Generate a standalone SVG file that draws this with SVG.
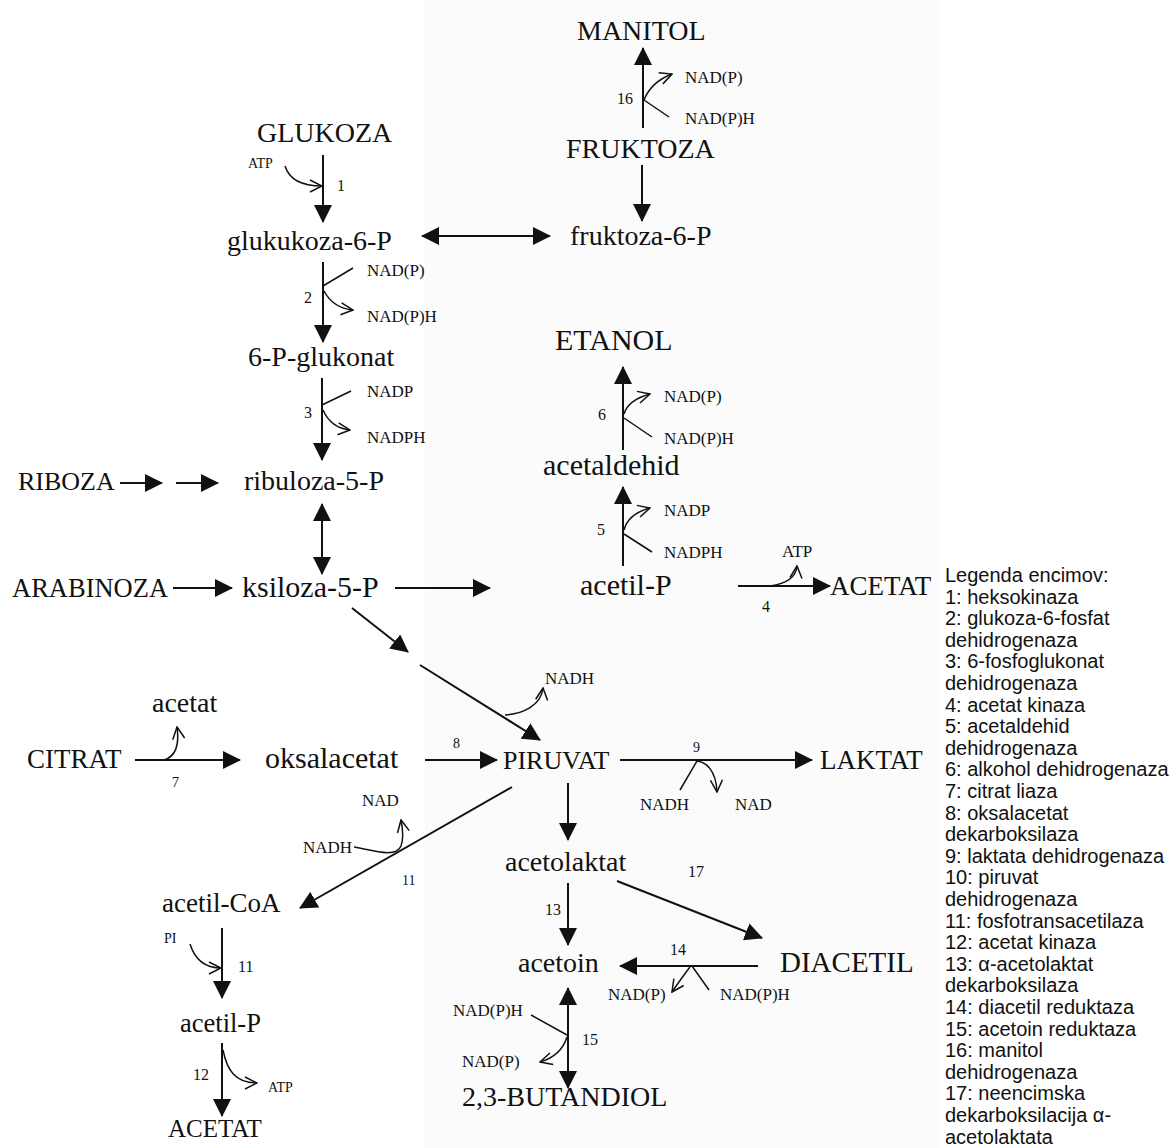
<svg xmlns="http://www.w3.org/2000/svg" width="1172" height="1148" viewBox="0 0 1172 1148">
<style>
.big{font-family:"Liberation Serif","Times New Roman",serif;font-size:28px;fill:#111}
.mid{font-family:"Liberation Serif","Times New Roman",serif;font-size:27px;fill:#111}
.lg{font-family:"Liberation Serif","Times New Roman",serif;font-size:30px;fill:#111}
.sm{font-family:"Liberation Serif","Times New Roman",serif;font-size:17px;fill:#111}
.xs{font-family:"Liberation Serif","Times New Roman",serif;font-size:14px;fill:#111}
.num{font-family:"Liberation Serif","Times New Roman",serif;font-size:16px;fill:#111}
.leg{font-family:"Liberation Sans",Arial,sans-serif;font-size:20px;fill:#111}
.m{fill:none;stroke:#111;stroke-width:2}
.b{fill:none;stroke:#111;stroke-width:1.5}
</style>
<defs>
<marker id="ah" viewBox="0 0 18 18" refX="17" refY="9" markerWidth="18" markerHeight="18" markerUnits="userSpaceOnUse" orient="auto-start-reverse"><path d="M0,0 L18,9 L0,18 z" fill="#111"/></marker>
<marker id="oh" viewBox="0 0 14 14" refX="13" refY="7" markerWidth="14" markerHeight="14" markerUnits="userSpaceOnUse" orient="auto"><path d="M1,1 L13,7 L1,13" fill="none" stroke="#111" stroke-width="1.5"/></marker>
</defs>
<rect width="1172" height="1148" fill="#fff"/>
<rect x="425" y="0" width="515" height="1148" fill="#fbfbfb"/>

<g id="connectors">
<!-- 16 -->
<line class="m" x1="643" y1="128" x2="643" y2="48" marker-end="url(#ah)"/>
<path class="b" d="M644,100 Q651,82 672,74" marker-end="url(#oh)"/>
<line class="b" x1="644" y1="100" x2="669" y2="117"/>
<!-- fruktoza -->
<line class="m" x1="642" y1="165" x2="642" y2="221" marker-end="url(#ah)"/>
<line class="m" x1="422" y1="236" x2="550" y2="236" marker-start="url(#ah)" marker-end="url(#ah)"/>
<!-- 1 -->
<line class="m" x1="323" y1="155" x2="323" y2="222" marker-end="url(#ah)"/>
<path class="b" d="M285,166 C289,179 300,186 322,186" marker-end="url(#oh)"/>
<!-- 2 -->
<line class="m" x1="323" y1="262" x2="323" y2="342" marker-end="url(#ah)"/>
<line class="b" x1="323" y1="286" x2="353" y2="268"/>
<path class="b" d="M324,291 Q333,308 353,310" marker-end="url(#oh)"/>
<!-- 3 -->
<line class="m" x1="322" y1="378" x2="322" y2="460" marker-end="url(#ah)"/>
<line class="b" x1="322" y1="405" x2="351" y2="391"/>
<path class="b" d="M323,410 Q331,428 350,430" marker-end="url(#oh)"/>
<!-- riboza -->
<line class="m" x1="120" y1="483" x2="162" y2="483" marker-end="url(#ah)"/>
<line class="m" x1="176" y1="483" x2="218" y2="483" marker-end="url(#ah)"/>
<line class="m" x1="322" y1="504" x2="322" y2="574" marker-start="url(#ah)" marker-end="url(#ah)"/>
<!-- arabinoza / ksiloza -->
<line class="m" x1="173" y1="588" x2="232" y2="588" marker-end="url(#ah)"/>
<line class="m" x1="395" y1="588" x2="490" y2="588" marker-end="url(#ah)"/>
<line class="m" x1="352" y1="608" x2="408" y2="652" marker-end="url(#ah)"/>
<line class="m" x1="420" y1="665" x2="540" y2="740" marker-end="url(#ah)"/>
<path class="b" d="M505,715 C522,714 541,706 543,688" marker-end="url(#oh)"/>
<!-- 6, 5 -->
<line class="m" x1="623" y1="450" x2="623" y2="367" marker-end="url(#ah)"/>
<path class="b" d="M624,414 Q628,400 650,394" marker-end="url(#oh)"/>
<line class="b" x1="624" y1="418" x2="652" y2="437"/>
<line class="m" x1="623" y1="566" x2="623" y2="487" marker-end="url(#ah)"/>
<path class="b" d="M624,530 Q628,514 650,508" marker-end="url(#oh)"/>
<line class="b" x1="624" y1="534" x2="652" y2="552"/>
<!-- 4 -->
<line class="m" x1="738" y1="586" x2="830" y2="586" marker-end="url(#ah)"/>
<path class="b" d="M770,586 C784,584 796,578 797,566" marker-end="url(#oh)"/>
<!-- 7 -->
<line class="m" x1="135" y1="760" x2="240" y2="760" marker-end="url(#ah)"/>
<path class="b" d="M164,760 C174,757 180,748 177,727" marker-end="url(#oh)"/>
<!-- 8 -->
<line class="m" x1="425" y1="760" x2="497" y2="760" marker-end="url(#ah)"/>
<!-- 9 -->
<line class="m" x1="620" y1="760" x2="812" y2="760" marker-end="url(#ah)"/>
<line class="b" x1="680" y1="790" x2="697" y2="761"/>
<path class="b" d="M697,761 C706,762 716,770 717,792" marker-end="url(#oh)"/>
<!-- 11 diag -->
<line class="m" x1="512" y1="787" x2="300" y2="908" marker-end="url(#ah)"/>
<path class="b" d="M354,847 C375,851 396,858 401,846 C404,838 403,830 401,820" marker-end="url(#oh)"/>
<!-- acetil-CoA down -->
<line class="m" x1="222" y1="928" x2="222" y2="998" marker-end="url(#ah)"/>
<path class="b" d="M190,944 C195,960 205,968 221,968" marker-end="url(#oh)"/>
<line class="m" x1="222" y1="1043" x2="222" y2="1116" marker-end="url(#ah)"/>
<path class="b" d="M223,1050 C227,1070 235,1083 257,1083" marker-end="url(#oh)"/>
<!-- piruvat down -->
<line class="m" x1="568" y1="783" x2="568" y2="840" marker-end="url(#ah)"/>
<line class="m" x1="568" y1="883" x2="568" y2="945" marker-end="url(#ah)"/>
<line class="m" x1="617" y1="881" x2="762" y2="938" marker-end="url(#ah)"/>
<!-- 14 -->
<line class="m" x1="758" y1="966" x2="620" y2="966" marker-end="url(#ah)"/>
<line class="b" x1="692" y1="966" x2="709" y2="990"/>
<path class="b" d="M690,967 Q683,976 672,992" marker-end="url(#oh)"/>
<!-- 15 -->
<line class="m" x1="568" y1="988" x2="568" y2="1088" marker-start="url(#ah)" marker-end="url(#ah)"/>
<line class="b" x1="531" y1="1015" x2="567" y2="1035"/>
<path class="b" d="M567,1037 Q561,1056 540,1062" marker-end="url(#oh)"/>
</g>

<g id="n-manitol"><text class="big" x="577" y="40">MANITOL</text></g>
<g id="c-16"><text class="num" x="617" y="104">16</text><text class="sm" x="685" y="83">NAD(P)</text><text class="sm" x="685" y="124">NAD(P)H</text></g>
<g id="n-fruktoza"><text class="big" x="566" y="158">FRUKTOZA</text></g>
<g id="n-fruktoza6p"><text class="big" x="570" y="245">fruktoza-6-P</text></g>
<g id="n-glukoza"><text class="big" x="257" y="142">GLUKOZA</text></g>
<g id="c-1"><text class="xs" x="248" y="168">ATP</text><text class="num" x="337" y="191">1</text></g>
<g id="n-glukoza6p"><text class="big" x="227" y="250">glukukoza-6-P</text></g>
<g id="c-2"><text class="num" x="304" y="303">2</text><text class="sm" x="367" y="276">NAD(P)</text><text class="sm" x="367" y="322">NAD(P)H</text></g>
<g id="n-6pglukonat"><text class="big" x="248" y="366">6-P-glukonat</text></g>
<g id="c-3"><text class="num" x="304" y="418">3</text><text class="sm" x="367" y="397">NADP</text><text class="sm" x="367" y="443">NADPH</text></g>
<g id="n-riboza"><text class="big" x="18" y="490" style="font-size:26px">RIBOZA</text></g>
<g id="n-ribuloza"><text class="big" x="244" y="490">ribuloza-5-P</text></g>
<g id="n-arabinoza"><text class="big" x="12" y="597" style="font-size:26.5px">ARABINOZA</text></g>
<g id="n-ksiloza"><text class="lg" x="242" y="597">ksiloza-5-P</text></g>
<g id="c-pk"><text class="sm" x="545" y="684">NADH</text></g>
<g id="n-etanol"><text class="lg" x="555" y="350">ETANOL</text></g>
<g id="c-6"><text class="num" x="598" y="420">6</text><text class="sm" x="664" y="402">NAD(P)</text><text class="sm" x="664" y="444">NAD(P)H</text></g>
<g id="n-acetaldehid"><text class="lg" x="543" y="475">acetaldehid</text></g>
<g id="c-5"><text class="num" x="597" y="535">5</text><text class="sm" x="664" y="516">NADP</text><text class="sm" x="664" y="558">NADPH</text></g>
<g id="n-acetilp1"><text class="lg" x="580" y="595">acetil-P</text></g>
<g id="c-4"><text class="sm" x="782" y="557">ATP</text><text class="num" x="762" y="612">4</text></g>
<g id="n-acetat1"><text class="mid" x="830" y="595">ACETAT</text></g>
<g id="n-acetat-s"><text class="big" x="152" y="712">acetat</text></g>
<g id="n-citrat"><text class="mid" x="27" y="768">CITRAT</text></g>
<g id="c-7"><text class="xs" x="172" y="787">7</text></g>
<g id="n-oksalacetat"><text class="lg" x="265" y="768">oksalacetat</text></g>
<g id="c-8"><text class="xs" x="453" y="748">8</text></g>
<g id="n-piruvat"><text class="big" x="503" y="769" style="font-size:26px">PIRUVAT</text></g>
<g id="c-9"><text class="xs" x="693" y="752">9</text><text class="sm" x="640" y="810">NADH</text><text class="sm" x="735" y="810">NAD</text></g>
<g id="n-laktat"><text class="mid" x="820" y="769">LAKTAT</text></g>
<g id="c-11a"><text class="sm" x="362" y="806">NAD</text><text class="sm" x="303" y="853">NADH</text><text class="xs" x="402" y="885">11</text></g>
<g id="n-acetilcoa"><text class="mid" x="162" y="912">acetil-CoA</text></g>
<g id="c-11b"><text class="xs" x="164" y="943">PI</text><text class="num" x="238" y="972">11</text></g>
<g id="n-acetilp2"><text class="big" x="180" y="1032" style="font-size:26.5px">acetil-P</text></g>
<g id="c-12"><text class="num" x="193" y="1080">12</text><text class="xs" x="268" y="1092">ATP</text></g>
<g id="n-acetat2"><text class="big" x="168" y="1137" style="font-size:25px">ACETAT</text></g>
<g id="n-acetolaktat"><text class="big" x="505" y="871">acetolaktat</text></g>
<g id="c-13"><text class="num" x="545" y="915">13</text></g>
<g id="c-17"><text class="num" x="688" y="877">17</text></g>
<g id="n-acetoin"><text class="big" x="518" y="972">acetoin</text></g>
<g id="n-diacetil"><text class="big" x="780" y="972" style="font-size:29px">DIACETIL</text></g>
<g id="c-14"><text class="num" x="670" y="955">14</text><text class="sm" x="608" y="1000">NAD(P)</text><text class="sm" x="720" y="1000">NAD(P)H</text></g>
<g id="c-15"><text class="num" x="582" y="1045">15</text><text class="sm" x="453" y="1016">NAD(P)H</text><text class="sm" x="462" y="1067">NAD(P)</text></g>
<g id="n-butandiol"><text class="big" x="462" y="1106">2,3-BUTANDIOL</text></g>

<g id="legend">
<text class="leg" x="945" y="582">Legenda encimov:</text>
<text class="leg" x="945" y="603.6">1: heksokinaza</text>
<text class="leg" x="945" y="625.2">2: glukoza-6-fosfat</text>
<text class="leg" x="945" y="646.8">dehidrogenaza</text>
<text class="leg" x="945" y="668.4">3: 6-fosfoglukonat</text>
<text class="leg" x="945" y="690">dehidrogenaza</text>
<text class="leg" x="945" y="711.6">4: acetat kinaza</text>
<text class="leg" x="945" y="733.2">5: acetaldehid</text>
<text class="leg" x="945" y="754.8">dehidrogenaza</text>
<text class="leg" x="945" y="776.4">6: alkohol dehidrogenaza</text>
<text class="leg" x="945" y="798">7: citrat liaza</text>
<text class="leg" x="945" y="819.6">8: oksalacetat</text>
<text class="leg" x="945" y="841.2">dekarboksilaza</text>
<text class="leg" x="945" y="862.8">9: laktata dehidrogenaza</text>
<text class="leg" x="945" y="884.4">10: piruvat</text>
<text class="leg" x="945" y="906">dehidrogenaza</text>
<text class="leg" x="945" y="927.6">11: fosfotransacetilaza</text>
<text class="leg" x="945" y="949.2">12: acetat kinaza</text>
<text class="leg" x="945" y="970.8">13: α-acetolaktat</text>
<text class="leg" x="945" y="992.4">dekarboksilaza</text>
<text class="leg" x="945" y="1014">14: diacetil reduktaza</text>
<text class="leg" x="945" y="1035.6">15: acetoin reduktaza</text>
<text class="leg" x="945" y="1057.2">16: manitol</text>
<text class="leg" x="945" y="1078.8">dehidrogenaza</text>
<text class="leg" x="945" y="1100.4">17: neencimska</text>
<text class="leg" x="945" y="1122">dekarboksilacija α-</text>
<text class="leg" x="945" y="1143.6">acetolaktata</text>
</g>
</svg>
